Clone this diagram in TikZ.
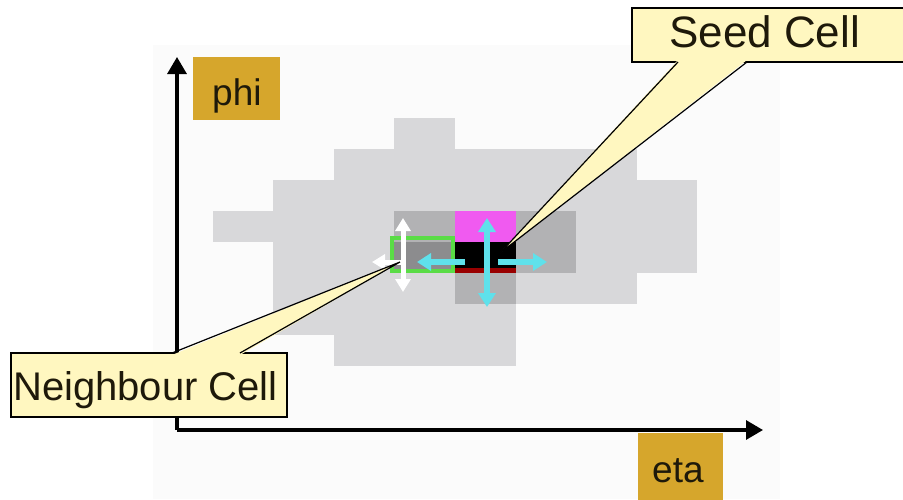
\documentclass[tikz,border=0pt]{standalone}
\usepackage{fontspec}
\setmainfont{Liberation Sans}
\usepackage{tikz}
\usetikzlibrary{arrows.meta}
\usetikzlibrary{calc}
\definecolor{backtint}{RGB}{251,251,251}
\definecolor{cellgray}{RGB}{216,216,218}
\definecolor{midgray}{RGB}{178,178,180}
\definecolor{nbgray}{RGB}{140,140,142}
\definecolor{seedpink}{RGB}{240,90,240}
\definecolor{nbgreen}{RGB}{90,220,70}
\definecolor{arrowcyan}{RGB}{95,225,235}
\definecolor{calloutyellow}{RGB}{255,247,192}
\definecolor{labelgold}{RGB}{214,166,44}
\definecolor{labeltext}{RGB}{30,25,10}
\tikzstyle{lightcell} = [fill=cellgray]
\tikzstyle{midcell} = [fill=midgray]
\tikzstyle{axis} = [line width=3.2pt,-{Triangle[width=19pt,length=17pt]}]
\tikzstyle{whitearrow} = [white,line width=5pt,-{Triangle[width=15pt,length=13pt]}]
\tikzstyle{cyanarrow} = [arrowcyan,line width=6pt,-{Triangle[width=17pt,length=14pt]}]
\tikzstyle{callout} = [fill=calloutyellow,draw=black,line width=1.2pt]
\tikzstyle{goldbox} = [fill=labelgold]

\begin{document}
\begin{tikzpicture}[x=1pt,y=-1pt]
\useasboundingbox (0,0) rectangle (903,499);
\fill[backtint] (153,45) rectangle (780,499);

% cluster cells
\fill[lightcell] (213,211) rectangle (273,242);
\fill[lightcell] (273,180) rectangle (334,335);
\fill[lightcell] (334,149) rectangle (394,366);
\fill[lightcell] (394,118) rectangle (455,366);
\fill[lightcell] (455,149) rectangle (516,366);
\fill[lightcell] (516,149) rectangle (637,304);
\fill[lightcell] (637,180) rectangle (697,273);

\fill[midcell] (394,211) rectangle (455,242);
\fill[midcell] (455,273) rectangle (516,304);
\fill[midcell] (516,211) rectangle (576,273);
\fill[nbgray] (394,242) rectangle (455,273);
\fill[seedpink] (455,211) rectangle (516,242);
\fill[black] (455,242) rectangle (516,273);
\fill[red!60!black] (455,268) rectangle (516,273);
\draw[nbgreen,line width=3.5pt] (392,238) rectangle (453,271);

\coordinate (nb) at (403,262);
\coordinate (seed) at (487,262);

% neighbour search arrows
\draw[whitearrow] (nb) -- ++(0,-44);
\draw[whitearrow] (nb) -- ++(0,30);
\draw[whitearrow] (nb) -- ++(-31,0);
\draw[cyanarrow] (seed) ++(-22,0) -- ++(-48,0);
\draw[cyanarrow] (seed) -- ++(0,-44);
\draw[cyanarrow] (seed) -- ++(0,45);
\draw[cyanarrow] (seed) ++(11,0) -- ++(49,0);

% axes
\coordinate (origin) at (177,430);
\coordinate (phitip) at (177,57);
\coordinate (etatip) at (763,430);
\draw[axis] (origin) -- (phitip);
\draw[axis] (origin) -- (etatip);

% callouts
\draw[callout] (632,8) rectangle (915,62);
\coordinate (sa) at (678,62);
\coordinate (sb) at (747,62);
\coordinate (stip) at (500,253);
\fill[calloutyellow] ($(sa)+(0,-2)$) -- (stip) -- ($(sb)+(0,-2)$) -- cycle;
\draw[line width=1.2pt] (sa) -- (stip) -- (sb);
\draw(669,47) node[anchor=base west,inner sep=0pt,text=labeltext] (seedlabel) {\fontsize{44}{52}\selectfont Seed Cell};

\draw[callout] (11,353) rectangle (287,417);
\coordinate (na) at (172,353);
\coordinate (nbb) at (240,353);
\coordinate (ntip) at (400,262);
\fill[calloutyellow] ($(na)+(0,2)$) -- (ntip) -- ($(nbb)+(0,2)$) -- cycle;
\draw[line width=1.2pt] (na) -- (ntip) -- (nbb);
\draw(13,400) node[anchor=base west,inner sep=0pt,text=labeltext] (nblabel) {\fontsize{40}{48}\selectfont Neighbour Cell};

% axis labels
\fill[goldbox] (193,57) rectangle (280,120);
\draw(212,105) node[anchor=base west,inner sep=0pt,text=labeltext] (phi) {\fontsize{37}{44}\selectfont phi};
\fill[goldbox] (638,433) rectangle (723,510);
\draw(652,482) node[anchor=base west,inner sep=0pt,text=labeltext] (eta) {\fontsize{37}{44}\selectfont eta};

\end{tikzpicture}
\end{document}
